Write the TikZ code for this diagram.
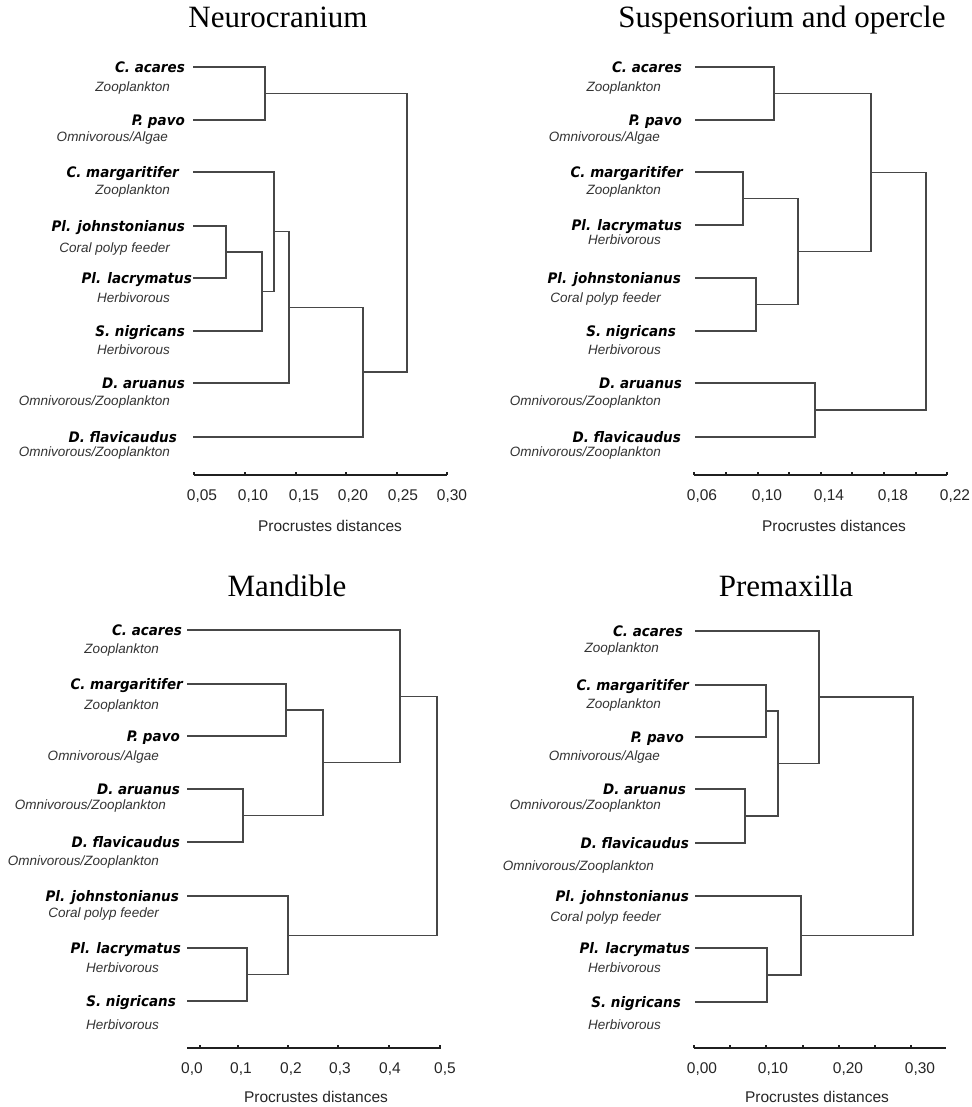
\documentclass[tikz,border=0pt]{standalone}
\usepackage{fontspec}
\setmainfont{Liberation Serif}
\newfontfamily\labfont[FakeStretch=0.93]{DejaVu Sans}
\newfontfamily\subfont{Liberation Sans}
\tikzset{
  bl/.style={font=\labfont\bfseries\itshape\fontsize{14.5}{17}\selectfont, text=black, inner sep=0pt, anchor=base east},
  sb/.style={font=\subfont\itshape\fontsize{13.5}{16}\selectfont, text=black!80, inner sep=0pt, anchor=base east},
  ttl/.style={font=\fontsize{31}{36}\selectfont, inner sep=0pt, anchor=base},
  tk/.style={font=\subfont\fontsize{15.5}{18}\selectfont, inner sep=0pt, anchor=base, text=black!85},
  br/.style={draw=black!72, line width=1.3pt},
  ax/.style={draw=black!88, line width=1.8pt},
  axt/.style={draw=black!88, line width=1.3pt},
}
\newcommand\mkleaf[8]{%
  \node[bl] (#1l) at (#2,#3+5.3) {#4};
  \node[sb] (#1s) at (#5,#6+4.5) {#7};
  \coordinate (#1) at (#8,#3);}
\newcommand\mkjoin[5]{%
  \coordinate (#1) at (#2,#3);
  \draw[br] (#4) -| (#1) |- (#5);}
\begin{document}
\begin{tikzpicture}[x=1pt,y=-1pt]
\useasboundingbox (0,0) rectangle (971,1107);
\fill[white] (0,0) rectangle (971,1107);

% Titles
\node[ttl] (t1) at (278,28) {Neurocranium};
\node[ttl] (t2) at (782,28) {Suspensorium and opercle};
\node[ttl] (t3) at (287,596) {Mandible};
\node[ttl] (t4) at (786,596) {Premaxilla};

% ---------- Panel 1: Neurocranium
\mkleaf{a1}{185}{67}{C. acares}{170}{87}{Zooplankton}{193}
\mkleaf{a2}{185}{120}{P. pavo}{168}{137}{Omnivorous/Algae}{193}
\mkleaf{a3}{179}{172}{C. margaritifer}{170}{190}{Zooplankton}{193}
\mkleaf{a4}{185}{226}{Pl. johnstonianus}{170}{248}{Coral polyp feeder}{193}
\mkleaf{a5}{192}{278}{Pl. lacrymatus}{170}{298}{Herbivorous}{193}
\mkleaf{a6}{185}{331}{S. nigricans}{170}{350}{Herbivorous}{193}
\mkleaf{a7}{185}{383}{D. aruanus}{170}{401}{Omnivorous/Zooplankton}{193}
\mkleaf{a8}{177}{437}{D. flavicaudus}{170}{452}{Omnivorous/Zooplankton}{193}
\mkjoin{a12}{265}{93.5}{a1}{a2}
\mkjoin{a45}{226}{252}{a4}{a5}
\mkjoin{a456}{262}{291.5}{a45}{a6}
\mkjoin{a3456}{274}{231.75}{a3}{a456}
\mkjoin{a34567}{289}{307.4}{a3456}{a7}
\mkjoin{a38}{363}{372}{a34567}{a8}
\mkjoin{aR}{407}{232.75}{a12}{a38}
\draw[ax] (194,475) -- (447,475);
\foreach \x in {194,245,296,346,397,447} \draw[axt] (\x,475) -- (\x,471.5);
\node[tk] (a1t) at (202,500.5) {0,05};
\node[tk] (a2t) at (253,500.5) {0,10};
\node[tk] (a3t) at (304,500.5) {0,15};
\node[tk] (a4t) at (353,500.5) {0,20};
\node[tk] (a5t) at (403,500.5) {0,25};
\node[tk] (a6t) at (452,500.5) {0,30};
\node[tk] (ap) at (330,531) {Procrustes distances};

% ---------- Panel 2: Suspensorium and opercle
\mkleaf{b1}{682}{67}{C. acares}{661}{87}{Zooplankton}{695}
\mkleaf{b2}{682}{120}{P. pavo}{660}{137}{Omnivorous/Algae}{695}
\mkleaf{b3}{683}{172}{C. margaritifer}{661}{190}{Zooplankton}{695}
\mkleaf{b4}{682}{225}{Pl. lacrymatus}{661}{240}{Herbivorous}{695}
\mkleaf{b5}{681}{278}{Pl. johnstonianus}{661}{298}{Coral polyp feeder}{695}
\mkleaf{b6}{676}{331}{S. nigricans}{661}{350}{Herbivorous}{695}
\mkleaf{b7}{682}{383}{D. aruanus}{661}{401}{Omnivorous/Zooplankton}{695}
\mkleaf{b8}{681}{437}{D. flavicaudus}{661}{452}{Omnivorous/Zooplankton}{695}
\mkjoin{b12}{774}{93.5}{b1}{b2}
\mkjoin{b34}{743}{198.5}{b3}{b4}
\mkjoin{b56}{756}{304.5}{b5}{b6}
\mkjoin{b36}{798}{251.5}{b34}{b56}
\mkjoin{b16}{871}{172.5}{b12}{b36}
\mkjoin{b78}{815}{410}{b7}{b8}
\mkjoin{bR}{926}{291}{b16}{b78}
\draw[ax] (694,475) -- (947,475);
\foreach \x in {694,726,758,789,821,852,884,916,947} \draw[axt] (\x,475) -- (\x,471.5);
\node[tk] (b1t) at (702,500.5) {0,06};
\node[tk] (b2t) at (767,500.5) {0,10};
\node[tk] (b3t) at (829,500.5) {0,14};
\node[tk] (b4t) at (893,500.5) {0,18};
\node[tk] (b5t) at (955,500.5) {0,22};
\node[tk] (bp) at (834,531) {Procrustes distances};

% ---------- Panel 3: Mandible
\mkleaf{c1}{182}{630}{C. acares}{159}{649}{Zooplankton}{187}
\mkleaf{c2}{183}{684}{C. margaritifer}{159}{705}{Zooplankton}{187}
\mkleaf{c3}{180}{736}{P. pavo}{159}{756}{Omnivorous/Algae}{187}
\mkleaf{c4}{180}{789}{D. aruanus}{166}{805}{Omnivorous/Zooplankton}{187}
\mkleaf{c5}{180}{842}{D. flavicaudus}{159}{861}{Omnivorous/Zooplankton}{187}
\mkleaf{c6}{179}{896}{Pl. johnstonianus}{159}{913}{Coral polyp feeder}{187}
\mkleaf{c7}{181}{948}{Pl. lacrymatus}{159}{968}{Herbivorous}{187}
\mkleaf{c8}{176}{1001}{S. nigricans}{159}{1025}{Herbivorous}{187}
\mkjoin{c23}{286}{710}{c2}{c3}
\mkjoin{c45}{243}{815.5}{c4}{c5}
\mkjoin{c25}{323}{762.75}{c23}{c45}
\mkjoin{c15}{400}{696.4}{c1}{c25}
\mkjoin{c78}{247}{974.5}{c7}{c8}
\mkjoin{c68}{288}{935.25}{c6}{c78}
\mkjoin{cR}{437}{815.8}{c15}{c68}
\draw[ax] (187,1048) -- (441,1048);
\foreach \x in {200,238,288,338,389,440} \draw[axt] (\x,1048) -- (\x,1044.5);
\node[tk] (c1t) at (192,1073.5) {0,0};
\node[tk] (c2t) at (241,1073.5) {0,1};
\node[tk] (c3t) at (291,1073.5) {0,2};
\node[tk] (c4t) at (340,1073.5) {0,3};
\node[tk] (c5t) at (390,1073.5) {0,4};
\node[tk] (c6t) at (445,1073.5) {0,5};
\node[tk] (cp) at (316,1102) {Procrustes distances};

% ---------- Panel 4: Premaxilla
\mkleaf{d1}{683}{631}{C. acares}{659}{648}{Zooplankton}{695}
\mkleaf{d2}{689}{685}{C. margaritifer}{661}{704}{Zooplankton}{695}
\mkleaf{d3}{684}{737}{P. pavo}{660}{756}{Omnivorous/Algae}{695}
\mkleaf{d4}{686}{789}{D. aruanus}{661}{805}{Omnivorous/Zooplankton}{695}
\mkleaf{d5}{689}{843}{D. flavicaudus}{654}{866}{Omnivorous/Zooplankton}{695}
\mkleaf{d6}{689}{896}{Pl. johnstonianus}{661}{917}{Coral polyp feeder}{695}
\mkleaf{d7}{690}{948}{Pl. lacrymatus}{661}{968}{Herbivorous}{695}
\mkleaf{d8}{681}{1002}{S. nigricans}{661}{1025}{Herbivorous}{695}
\mkjoin{d23}{766}{711}{d2}{d3}
\mkjoin{d45}{745}{816}{d4}{d5}
\mkjoin{d25}{778}{763.5}{d23}{d45}
\mkjoin{d15}{819}{697}{d1}{d25}
\mkjoin{d78}{767}{975}{d7}{d8}
\mkjoin{d68}{801}{935.5}{d6}{d78}
\mkjoin{dR}{913}{816}{d15}{d68}
\draw[ax] (694,1048) -- (946,1048);
\foreach \x in {694,730,766,803,839,875,911} \draw[axt] (\x,1048) -- (\x,1044.5);
\node[tk] (d1t) at (702,1073.5) {0,00};
\node[tk] (d2t) at (773,1073.5) {0,10};
\node[tk] (d3t) at (848,1073.5) {0,20};
\node[tk] (d4t) at (920,1073.5) {0,30};
\node[tk] (dp) at (817,1102) {Procrustes distances};
\end{tikzpicture}
\end{document}
